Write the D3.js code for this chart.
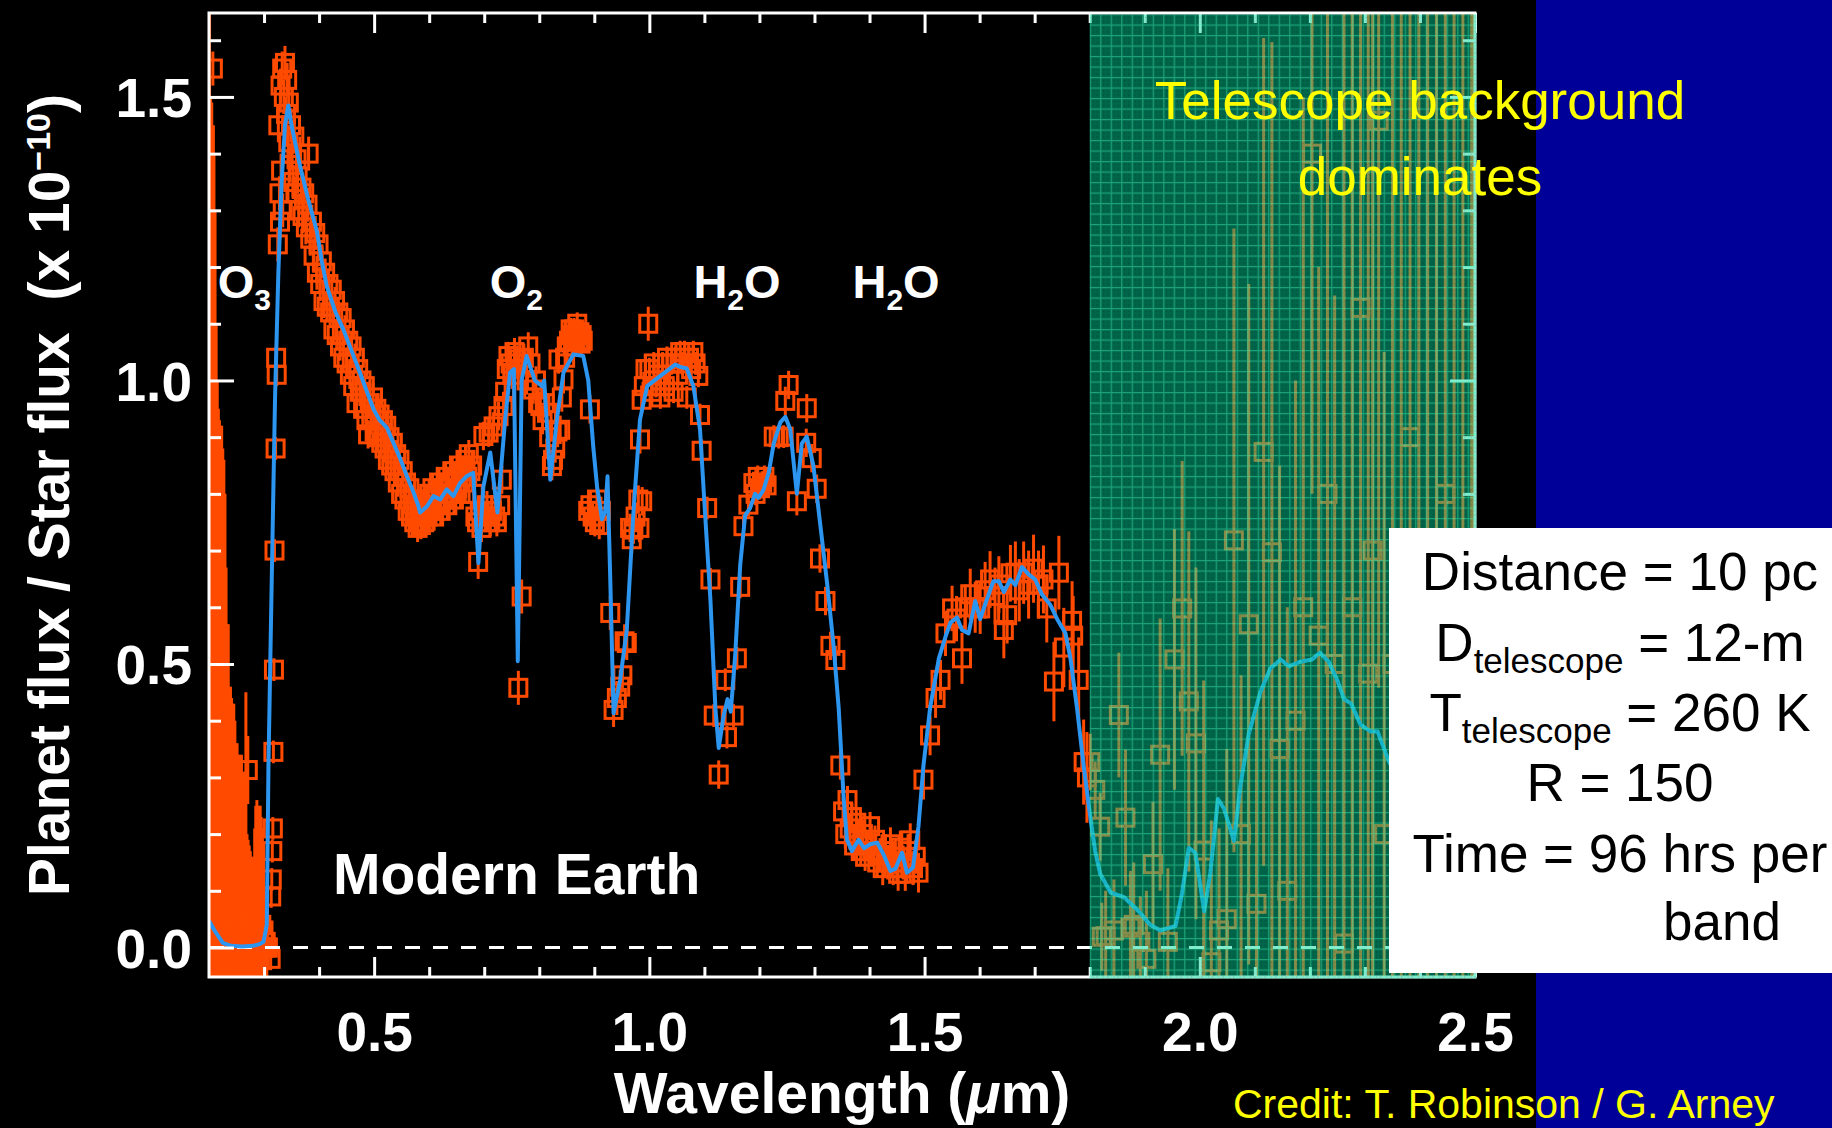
<!DOCTYPE html>
<html><head><meta charset="utf-8">
<script src="https://cdn.jsdelivr.net/npm/d3@7/dist/d3.min.js"></script>
<style>
html,body{margin:0;padding:0;background:#000;overflow:hidden}
text{font-family:"Liberation Sans",Arial,Helvetica,sans-serif;white-space:pre}
</style>
</head><body>
<svg id="c" width="1832" height="1128"></svg>
<script>
// ---------------- DATA ----------------
// Tick values
const xMajor = [0.5, 1.0, 1.5, 2.0, 2.5];
const xMinor = [0.3,0.4,0.6,0.7,0.8,0.9,1.1,1.2,1.3,1.4,1.6,1.7,1.8,1.9,2.1,2.2,2.3,2.4];
const yMajor = [0.0, 0.5, 1.0, 1.5];
const yMinor = [0.1,0.2,0.3,0.4,0.6,0.7,0.8,0.9,1.1,1.2,1.3,1.4,1.6];

// Model spectrum (blue line): wavelength (um), planet/star flux (x1e-10)
const modelWave = [0.200,0.210,0.225,0.240,0.260,0.280,0.292,0.299,0.305,0.308,0.314,0.320,0.326,0.332,0.338,0.344,0.350,0.365,0.380,0.396,
0.405,0.414,0.430,0.444,0.460,0.474,0.487,0.499,0.510,0.523,0.535,0.547,0.560,0.571,0.580,0.5835,0.596,0.608,0.620,0.632,
0.644,0.656,0.668,0.680,0.6895,0.6985,0.711,0.724,0.738,0.747,0.754,0.761,0.768,0.777,0.792,0.805,0.809,0.820,0.832,0.844,
0.862,0.880,0.889,0.898,0.905,0.914,0.920,0.924,0.929,0.935,0.947,0.959,0.971,0.983,0.996,1.020,1.047,1.056,1.068,1.080,
1.092,1.101,1.111,1.120,1.126,1.135,1.142,1.148,1.156,1.165,1.174,1.183,1.192,1.198,1.207,1.217,1.226,1.238,1.247,1.256,
1.268,1.277,1.286,1.298,1.310,1.323,1.335,1.344,1.353,1.359,1.368,1.380,1.390,1.401,1.414,1.426,1.438,1.447,1.459,1.468,
1.479,1.489,1.498,1.510,1.526,1.538,1.547,1.559,1.568,1.580,1.592,1.601,1.610,1.625,1.635,1.644,1.656,1.665,1.677,1.689,
1.701,1.713,1.728,1.741,1.756,1.765,1.777,1.789,1.801,1.810,1.819,1.838,1.862,1.889,1.910,1.928,1.956,1.968,1.980,1.992,
2.008,2.019,2.033,2.044,2.062,2.074,2.089,2.110,2.128,2.147,2.162,2.183,2.204,2.218,2.234,2.250,2.262,2.275,2.292,2.310,
2.323,2.344,2.360];
const modelFlux = [0.047,0.030,0.008,0.003,0.002,0.003,0.006,0.010,0.040,0.320,0.650,0.970,1.190,1.350,1.450,1.485,1.450,1.380,1.320,1.263,
1.210,1.166,1.120,1.090,1.050,1.014,0.980,0.949,0.930,0.917,0.890,0.863,0.830,0.804,0.780,0.767,0.778,0.796,0.790,0.808,
0.796,0.819,0.831,0.837,0.678,0.813,0.873,0.767,0.931,1.014,1.020,0.505,1.000,1.043,1.000,0.990,1.000,0.825,0.931,1.014,
1.046,1.043,1.000,0.884,0.813,0.755,0.770,0.831,0.649,0.413,0.472,0.560,0.766,0.931,0.990,1.008,1.028,1.024,1.021,0.990,
0.914,0.769,0.612,0.422,0.352,0.409,0.438,0.416,0.516,0.674,0.762,0.775,0.800,0.793,0.806,0.838,0.889,0.926,0.936,0.914,
0.800,0.889,0.901,0.850,0.750,0.642,0.529,0.422,0.264,0.190,0.170,0.190,0.175,0.182,0.185,0.163,0.135,0.139,0.167,0.132,
0.141,0.214,0.321,0.422,0.510,0.548,0.573,0.582,0.560,0.554,0.611,0.579,0.605,0.646,0.646,0.627,0.649,0.639,0.671,0.658,
0.649,0.623,0.605,0.579,0.554,0.510,0.422,0.321,0.230,0.170,0.130,0.097,0.089,0.064,0.040,0.030,0.038,0.097,0.176,0.167,
0.064,0.130,0.262,0.245,0.188,0.286,0.377,0.450,0.492,0.508,0.496,0.504,0.508,0.520,0.504,0.471,0.438,0.430,0.393,0.381,
0.381,0.327,0.300];

// Simulated observations: [wavelength, flux, 1-sigma error]
const uvForest = [
[0.201,0.02,1.65],[0.203,0.05,1.45],[0.205,-0.02,1.51],[0.207,1.55,0.03],[0.208,0.03,1.42],[0.209,0.00,1.40],[0.211,0.06,1.24],[0.213,0.00,1.10],
[0.215,0.05,0.95],[0.217,0.00,0.95],[0.219,0.08,0.85],[0.221,0.00,0.92],[0.223,0.05,0.87],[0.225,0.00,0.88],[0.227,0.06,0.80],[0.229,0.00,0.80],
[0.231,0.05,0.62],[0.233,0.00,0.57],[0.235,0.04,0.53],[0.237,0.00,0.46],[0.239,0.06,0.40],[0.241,0.00,0.44],[0.243,0.04,0.39],[0.245,0.00,0.43],
[0.247,0.05,0.35],[0.249,0.00,0.36],[0.251,0.04,0.32],[0.253,0.00,0.34],[0.255,0.06,0.28],[0.257,0.00,0.33],[0.259,0.04,0.30],[0.261,0.00,0.31],
[0.263,0.05,0.26],[0.265,0.00,0.28],[0.267,0.02,0.43],[0.269,0.00,0.20],[0.2705,0.313,0.06],[0.271,0.04,0.15],[0.273,0.00,0.18],[0.275,0.03,0.14],
[0.277,0.00,0.16],[0.279,0.04,0.12],[0.281,0.00,0.15],[0.283,0.05,0.16],[0.285,0.00,0.25],[0.287,0.06,0.20],[0.289,0.00,0.24],[0.291,0.05,0.20],
[0.293,0.00,0.25],[0.295,0.04,0.19],[0.297,0.00,0.21],[0.299,0.03,0.13],[0.301,0.00,0.10],[0.303,0.01,0.06],[0.305,0.00,0.05],[0.307,0.00,0.04]
];
const uvPoints = [
[0.312,-0.02,0.02],[0.313,0.09,0.02],[0.314,0.12,0.02],[0.315,0.17,0.02],[0.316,0.21,0.02],[0.317,0.345,0.02],[0.318,0.49,0.02],[0.319,0.70,0.02],
[0.321,0.88,0.02],[0.323,1.01,0.02],[0.322,1.04,0.02],[0.325,1.24,0.03],[0.326,1.45,0.03],[0.328,1.33,0.03],[0.329,1.28,0.03],[0.330,1.52,0.03],
[0.331,1.37,0.03],[0.333,1.55,0.03],[0.334,1.30,0.03],[0.336,1.50,0.03],[0.338,1.56,0.03],[0.340,1.47,0.03],[0.342,1.53,0.03],[0.344,1.42,0.03],
[0.345,1.49,0.03],[0.347,1.38,0.03],[0.349,1.45,0.03],[0.351,1.40,0.03],[0.353,1.35,0.03],[0.355,1.43,0.03],[0.357,1.33,0.03],[0.359,1.39,0.03],
[0.361,1.36,0.03],[0.363,1.30,0.03],[0.365,1.40,0.03],[0.368,1.34,0.03],[0.370,1.29,0.03],[0.373,1.33,0.03],[0.376,1.27,0.03],[0.379,1.31,0.03],
[0.381,1.40,0.03],[0.384,1.25,0.03],[0.387,1.28,0.03],[0.390,1.22,0.03],[0.393,1.26,0.03],[0.396,1.19,0.03],[0.399,1.24,0.03],[0.402,1.17,0.03],
[0.405,1.21,0.03],[0.408,1.14,0.03]
];
const visPoints = [
[0.411,1.19,0.025],[0.414,1.13,0.025],[0.417,1.17,0.025],[0.420,1.12,0.025],[0.423,1.16,0.025],[0.426,1.09,0.025],[0.429,1.14,0.025],[0.432,1.08,0.025],
[0.435,1.12,0.025],[0.438,1.06,0.025],[0.441,1.11,0.025],[0.444,1.04,0.025],[0.447,1.09,0.025],[0.450,1.03,0.025],[0.453,1.07,0.025],[0.456,1.01,0.025],
[0.459,1.06,0.025],[0.462,0.99,0.025],[0.465,1.04,0.025],[0.468,0.96,0.025],[0.471,1.02,0.025],[0.474,0.98,0.025],[0.477,1.00,0.025],[0.480,0.95,0.025],
[0.483,0.99,0.025],[0.486,0.93,0.025],[0.489,0.905,0.025],[0.492,0.96,0.025],[0.495,0.93,0.025],[0.498,0.97,0.025],[0.501,0.91,0.025],[0.504,0.95,0.025],
[0.507,0.90,0.025],[0.510,0.94,0.025],[0.513,0.89,0.025],[0.516,0.93,0.025],[0.519,0.88,0.025],[0.522,0.92,0.025],[0.525,0.86,0.025],[0.528,0.90,0.025],
[0.531,0.85,0.025],[0.534,0.89,0.025],[0.537,0.84,0.025],[0.540,0.87,0.025],[0.543,0.82,0.025],[0.546,0.86,0.025],[0.549,0.80,0.025],[0.552,0.84,0.025],
[0.555,0.79,0.025],[0.558,0.82,0.025],[0.561,0.77,0.025],[0.564,0.81,0.025],[0.567,0.76,0.025],[0.570,0.79,0.025],[0.573,0.75,0.025],[0.576,0.78,0.025],
[0.579,0.74,0.025],[0.582,0.77,0.025],[0.585,0.745,0.025],[0.588,0.78,0.025],[0.591,0.75,0.025],[0.594,0.79,0.025],[0.597,0.76,0.025],[0.600,0.80,0.025],
[0.603,0.77,0.025],[0.606,0.81,0.025],[0.609,0.76,0.025],[0.612,0.80,0.025],[0.615,0.78,0.025],[0.618,0.82,0.025],[0.621,0.77,0.025],[0.624,0.81,0.025],
[0.627,0.79,0.025],[0.630,0.83,0.025],[0.633,0.78,0.025],[0.636,0.82,0.025],[0.639,0.80,0.025],[0.642,0.84,0.025],[0.645,0.79,0.025],[0.648,0.83,0.025],
[0.651,0.81,0.025],[0.654,0.85,0.025],[0.657,0.80,0.025],[0.660,0.84,0.025],[0.663,0.82,0.025],[0.666,0.86,0.025],[0.669,0.83,0.025],[0.672,0.87,0.025],
[0.675,0.84,0.025],[0.678,0.85,0.025],[0.681,0.80,0.025],[0.684,0.76,0.025],[0.687,0.75,0.025],[0.689,0.68,0.03],[0.692,0.77,0.025],[0.695,0.74,0.025],
[0.6985,0.902,0.025],[0.702,0.76,0.025],[0.705,0.78,0.025],[0.708,0.908,0.025],[0.711,0.75,0.025],[0.714,0.77,0.025],[0.717,0.919,0.025],[0.720,0.76,0.025],
[0.723,0.75,0.025],[0.726,0.937,0.025],[0.729,0.78,0.025],[0.732,0.825,0.025],[0.735,0.955,0.025],[0.738,0.98,0.025],[0.741,1.02,0.025],[0.744,1.043,0.025],
[0.748,1.03,0.025],[0.751,1.01,0.025],[0.755,1.05,0.025],[0.759,1.037,0.025],[0.762,0.458,0.03],[0.768,0.619,0.03],[0.772,1.04,0.025],[0.777,1.00,0.025],
[0.780,1.06,0.025],[0.784,1.03,0.025],[0.789,0.984,0.025],[0.794,1.00,0.025],[0.798,0.96,0.025],[0.802,0.955,0.025],[0.806,0.93,0.025],[0.810,0.96,0.025],
[0.814,0.943,0.025],[0.818,0.90,0.025],[0.823,0.849,0.025],[0.825,0.86,0.025],[0.829,0.88,0.025],[0.833,0.91,0.025],[0.835,1.037,0.025],[0.838,0.913,0.025],
[0.841,0.97,0.025],[0.844,1.002,0.025],[0.847,1.04,0.025],[0.850,1.06,0.025],[0.854,1.07,0.02],[0.857,1.09,0.02],[0.859,1.08,0.02],[0.861,1.06,0.02],
[0.863,1.09,0.02],[0.865,1.07,0.02],[0.867,1.08,0.02],[0.869,1.10,0.02],[0.871,1.07,0.02],[0.873,1.085,0.02],[0.875,1.065,0.02],[0.877,1.08,0.02],
[0.879,1.07,0.02],[0.889,0.77,0.025],[0.892,0.949,0.025],[0.893,0.78,0.025],[0.897,0.76,0.025],[0.901,0.75,0.025],[0.905,0.79,0.025],[0.909,0.745,0.025],
[0.912,0.77,0.025],[0.929,0.59,0.03],[0.935,0.419,0.03],[0.941,0.44,0.03],[0.947,0.46,0.03],[0.951,0.48,0.03],[0.955,0.54,0.03],[0.959,0.537,0.03],
[0.965,0.74,0.025],[0.968,0.72,0.025],[0.971,0.737,0.025],[0.975,0.76,0.025],[0.980,0.79,0.025],[0.982,0.74,0.025],[0.983,0.896,0.025],[0.986,0.966,0.025],
[0.987,0.787,0.025],[0.990,0.99,0.025],[0.993,1.02,0.025],[0.998,1.10,0.03]
];
const nirPoints = [
[1.000,1.02,0.02],[1.004,0.98,0.02],[1.008,1.03,0.02],[1.012,0.99,0.02],[1.016,1.01,0.02],[1.020,0.97,0.02],[1.024,1.03,0.02],[1.028,0.99,0.02],
[1.032,1.04,0.02],[1.036,1.00,0.02],[1.040,1.03,0.02],[1.044,0.98,0.02],[1.048,1.04,0.02],[1.052,1.01,0.02],[1.056,1.05,0.02],[1.060,1.03,0.02],
[1.064,1.05,0.02],[1.068,0.97,0.02],[1.072,1.04,0.02],[1.076,1.02,0.02],[1.080,1.05,0.02],[1.084,1.03,0.02],[1.089,1.008,0.02],[1.092,0.939,0.02],
[1.095,0.876,0.02],[1.105,0.775,0.02],[1.111,0.649,0.02],[1.117,0.409,0.02],[1.126,0.305,0.025],[1.138,0.472,0.02],[1.141,0.371,0.02],[1.153,0.409,0.02],
[1.159,0.510,0.02],[1.165,0.636,0.02],[1.171,0.743,0.02],[1.180,0.781,0.02],[1.189,0.819,0.02],[1.193,0.800,0.02],[1.197,0.830,0.02],[1.201,0.810,0.02],
[1.205,0.820,0.02],[1.209,0.830,0.02],[1.213,0.815,0.02],[1.226,0.901,0.02],[1.235,0.900,0.02],[1.244,0.901,0.02],[1.247,0.964,0.025],[1.253,0.992,0.025],
[1.268,0.787,0.025],[1.285,0.890,0.025],[1.286,0.951,0.025],[1.295,0.863,0.025],[1.304,0.809,0.025],[1.310,0.686,0.025],[1.320,0.611,0.025],[1.329,0.532,0.025],
[1.338,0.507,0.025],[1.347,0.321,0.025],[1.352,0.24,0.025],[1.356,0.20,0.025],[1.360,0.26,0.025],[1.364,0.21,0.025],[1.368,0.23,0.025],[1.372,0.18,0.025],
[1.376,0.22,0.025],[1.380,0.19,0.025],[1.384,0.17,0.025],[1.388,0.20,0.025],[1.392,0.16,0.025],[1.396,0.18,0.025],[1.401,0.214,0.025],[1.405,0.17,0.025],
[1.410,0.19,0.025],[1.414,0.15,0.025],[1.419,0.163,0.03],[1.424,0.14,0.03],[1.429,0.17,0.03],[1.433,0.15,0.03],[1.438,0.182,0.03],[1.443,0.14,0.03],
[1.447,0.16,0.03],[1.452,0.13,0.03],[1.456,0.176,0.03],[1.461,0.15,0.03],[1.465,0.13,0.03],[1.470,0.17,0.03],[1.474,0.189,0.03],[1.479,0.14,0.03],
[1.484,0.16,0.03],[1.489,0.132,0.035],[1.498,0.296,0.035],[1.510,0.374,0.035],[1.520,0.440,0.035],[1.529,0.472,0.035],[1.538,0.554,0.04],[1.550,0.598,0.04],
[1.558,0.580,0.04],[1.568,0.510,0.045],[1.574,0.600,0.04],[1.583,0.623,0.045],[1.592,0.600,0.045],[1.601,0.598,0.045],[1.610,0.630,0.05],[1.619,0.649,0.05],
[1.628,0.620,0.05],[1.635,0.640,0.05],[1.644,0.560,0.05],[1.650,0.586,0.05],[1.656,0.660,0.05],[1.665,0.661,0.055],[1.672,0.630,0.055],[1.680,0.661,0.055],
[1.689,0.640,0.06],[1.698,0.668,0.06],[1.707,0.640,0.06],[1.716,0.649,0.06],[1.722,0.598,0.06],[1.735,0.469,0.07],[1.744,0.661,0.065],[1.753,0.529,0.07],
[1.768,0.576,0.07],[1.770,0.550,0.07],[1.780,0.472,0.075],[1.789,0.327,0.075],[1.795,0.300,0.08]
];
const bgPoints = [
[1.801,0.327,0.05],[1.810,0.278,0.05],[1.819,0.213,0.06],[1.822,0.019,0.06],[1.829,0.020,0.08],[1.844,0.030,0.09],[1.853,0.410,0.11],[1.865,0.229,0.12],
[1.874,0.035,0.10],[1.880,0.040,0.11],[1.892,0.010,0.08],[1.903,-0.020,0.12],[1.915,0.147,0.11],[1.928,0.340,0.24],[1.942,0.010,0.13],[1.954,0.508,0.23],
[1.968,0.598,0.26],[1.980,0.434,0.30],[1.993,0.360,0.31],[2.007,0.171,0.30],[2.021,-0.026,0.25],[2.035,0.030,0.18],[2.049,0.050,0.30],[2.062,0.718,0.55],
[2.075,0.200,0.28],[2.089,0.570,0.60],[2.103,0.077,0.35],[2.116,0.874,0.73],[2.131,0.697,0.90],[2.145,0.350,0.50],[2.159,0.100,0.50],[2.174,0.400,0.60],
[2.188,0.600,0.90],[2.204,1.400,0.60],[2.216,0.550,0.65],[2.232,0.800,1.00],[2.245,0.500,0.65],[2.262,0.007,1.70],[2.277,0.600,1.20],[2.292,1.128,1.20],
[2.306,0.483,1.30],[2.314,0.700,1.20],[2.325,1.458,1.00],[2.335,0.200,0.85],[2.350,0.500,1.30],[2.366,0.300,1.50],[2.382,0.900,1.00],[2.398,0.400,1.40],
[2.414,0.600,1.20],[2.430,0.200,1.60],[2.446,0.800,1.10],[2.462,0.500,1.40],[2.478,0.400,1.50],[2.494,0.600,1.30],[2.499,0.500,1.60]
];

// Annotations
const molecules = [
  {base:"O", sub:"3", tail:"", wave:0.216},
  {base:"O", sub:"2", tail:"", wave:0.710},
  {base:"H", sub:"2", tail:"O", wave:1.080},
  {base:"H", sub:"2", tail:"O", wave:1.369}
];
const boxLines = ["Distance = 10 pc", "R = 150", "Time = 96 hrs per"];

// ---------------- DRAWING ----------------
const W = 1832, H = 1128;
const orange = "#ff4b00", blue = "#2c95f0";
const svg = d3.select("#c");
const x = d3.scaleLinear().domain([0.2, 2.5]).range([209, 1475]);
const y = d3.scaleLinear().domain([-0.052, 1.648]).range([977, 13]);
const X0 = x.range()[0], X1 = x.range()[1], Y0 = y.range()[1], Y1 = y.range()[0];

svg.append("rect").attr("width", W).attr("height", H).attr("fill", "#000");
svg.append("rect").attr("x", 1536).attr("width", W - 1536).attr("height", H).attr("fill", "#000099");

const defs = svg.append("defs");
defs.append("clipPath").attr("id", "plotclip").append("rect")
  .attr("x", X0).attr("y", Y0).attr("width", X1 - X0).attr("height", Y1 - Y0);
const pat = defs.append("pattern").attr("id", "grid").attr("patternUnits", "userSpaceOnUse")
  .attr("x", x(1.8)).attr("y", Y0 + 1).attr("width", 10.5).attr("height", 10.5);
pat.append("rect").attr("width", 10.5).attr("height", 10.5).attr("fill", "rgba(0,215,155,0.47)");
pat.append("rect").attr("width", 1).attr("height", 1).attr("x", 3).attr("y", 3).attr("fill", "rgba(0,0,0,0.3)");
pat.append("rect").attr("width", 1).attr("height", 1).attr("x", 7).attr("y", 7).attr("fill", "rgba(0,0,0,0.3)");
pat.append("rect").attr("width", 1).attr("height", 1).attr("x", 3).attr("y", 7).attr("fill", "rgba(0,0,0,0.2)");
pat.append("rect").attr("width", 1).attr("height", 1).attr("x", 7).attr("y", 3).attr("fill", "rgba(0,0,0,0.2)");
pat.append("path").attr("d", "M0 0.6H10.5M0.6 0V10.5").attr("stroke", "rgba(70,245,185,0.42)").attr("stroke-width", 1.2);

// observations
const points = [...uvForest, ...uvPoints, ...visPoints, ...nirPoints, ...bgPoints];
const pg = svg.append("g").attr("clip-path", "url(#plotclip)");
pg.selectAll("line.err").data(points).join("line").attr("class", "err")
  .attr("x1", d => x(d[0])).attr("x2", d => x(d[0]))
  .attr("y1", d => y(d[1] - d[2])).attr("y2", d => y(d[1] + d[2]))
  .attr("stroke", orange).attr("stroke-width", 3);
pg.selectAll("rect.pt").data(points).join("rect").attr("class", "pt")
  .attr("x", d => x(d[0]) - 8.5).attr("y", d => y(d[1]) - 8.5)
  .attr("width", 17).attr("height", 17)
  .attr("fill", "none").attr("stroke", orange).attr("stroke-width", 3);

// zero line
svg.append("line").attr("x1", X0).attr("x2", X1).attr("y1", y(0)).attr("y2", y(0))
  .attr("stroke", "#fff").attr("stroke-width", 3).attr("stroke-dasharray", "15 13");

// model line
const model = modelWave.map((w, i) => [w, modelFlux[i]]);
svg.append("path").attr("clip-path", "url(#plotclip)").datum(model)
  .attr("d", d3.line().x(d => x(d[0])).y(d => y(d[1])))
  .attr("fill", "none").attr("stroke", blue).attr("stroke-width", 4)
  .attr("stroke-linejoin", "round");

// axes
function styleAxis(g) {
  g.select(".domain").remove();
  g.selectAll(".tick line").attr("stroke", "#fff").attr("stroke-width", 3);
}
const fmt = d3.format(".1f");
svg.append("g").attr("transform", `translate(0,${Y1})`)
  .call(d3.axisBottom(x).tickValues(xMajor).tickSize(-20).tickFormat(fmt))
  .call(styleAxis)
  .call(g => g.selectAll("text").attr("y", 74).attr("dy", 0).attr("fill", "#fff")
    .attr("font-size", 55).attr("font-weight", "bold").attr("font-family", "Liberation Sans, Arial, sans-serif"));
svg.append("g").attr("transform", `translate(0,${Y1})`)
  .call(d3.axisBottom(x).tickValues(xMinor).tickSize(-10).tickFormat("")).call(styleAxis);
svg.append("g").attr("transform", `translate(0,${Y0})`)
  .call(d3.axisTop(x).tickValues(xMajor).tickSize(-20).tickFormat("")).call(styleAxis);
svg.append("g").attr("transform", `translate(0,${Y0})`)
  .call(d3.axisTop(x).tickValues(xMinor).tickSize(-10).tickFormat("")).call(styleAxis);
svg.append("g").attr("transform", `translate(${X0},0)`)
  .call(d3.axisLeft(y).tickValues(yMajor).tickSize(-25).tickFormat(fmt))
  .call(styleAxis)
  .call(g => g.selectAll("text").attr("x", -17).attr("dy", "0.36em").attr("fill", "#fff")
    .attr("font-size", 55).attr("font-weight", "bold").attr("font-family", "Liberation Sans, Arial, sans-serif"));
svg.append("g").attr("transform", `translate(${X0},0)`)
  .call(d3.axisLeft(y).tickValues(yMinor).tickSize(-12).tickFormat("")).call(styleAxis);
svg.append("g").attr("transform", `translate(${X1},0)`)
  .call(d3.axisRight(y).tickValues(yMajor).tickSize(-25).tickFormat("")).call(styleAxis);
svg.append("g").attr("transform", `translate(${X1},0)`)
  .call(d3.axisRight(y).tickValues(yMinor).tickSize(-12).tickFormat("")).call(styleAxis);
svg.append("rect").attr("x", X0).attr("y", Y0).attr("width", X1 - X0).attr("height", Y1 - Y0)
  .attr("fill", "none").attr("stroke", "#fff").attr("stroke-width", 3);

// axis titles
const xt = svg.append("text").attr("x", (X0 + X1) / 2).attr("y", 1113).attr("text-anchor", "middle")
  .attr("fill", "#fff").attr("font-size", 57).attr("font-weight", "bold");
xt.append("tspan").text("Wavelength (");
xt.append("tspan").attr("font-style", "italic").text("\u03bc");
xt.append("tspan").text("m)");
const yt = svg.append("text").attr("transform", `translate(69,${(Y0 + Y1) / 2}) rotate(-90)`)
  .attr("text-anchor", "middle").attr("fill", "#fff").attr("font-size", 57).attr("font-weight", "bold");
yt.append("tspan").text("Planet flux / Star flux  (x 10");
yt.append("tspan").attr("dy", -19).attr("font-size", 34).text("\u221210");
yt.append("tspan").attr("dy", 19).text(")");

// molecule labels
molecules.forEach(m => {
  const t = svg.append("text").attr("x", x(m.wave)).attr("y", 298)
    .attr("fill", "#fff").attr("font-size", 47).attr("font-weight", "bold");
  t.append("tspan").text(m.base);
  t.append("tspan").attr("dy", 12).attr("font-size", 30).text(m.sub);
  if (m.tail) t.append("tspan").attr("dy", -12).attr("font-size", 47).text(m.tail);
});
svg.append("text").attr("x", 333).attr("y", 894).attr("fill", "#fff")
  .attr("font-size", 57).attr("font-weight", "bold").text("Modern Earth");

// telescope-background overlay
svg.append("rect").attr("x", x(1.8)).attr("y", Y0 + 1.5).attr("width", X1 + 1.5 - x(1.8)).attr("height", Y1 - Y0)
  .attr("fill", "url(#grid)");
svg.append("text").attr("x", 1420).attr("y", 119).attr("text-anchor", "middle")
  .attr("fill", "#ffff00").attr("font-size", 53).text("Telescope background");
svg.append("text").attr("x", 1420).attr("y", 195).attr("text-anchor", "middle")
  .attr("fill", "#ffff00").attr("font-size", 53).text("dominates");

// parameter box
svg.append("rect").attr("x", 1389).attr("y", 528).attr("width", W - 1389).attr("height", 445).attr("fill", "#fff");
const bx = 1620;
svg.append("text").attr("x", bx).attr("y", 590).attr("text-anchor", "middle").attr("font-size", 53).attr("fill", "#000").text(boxLines[0]);
[["D", " = 12-m", 661], ["T", " = 260 K", 731]].forEach(([a, b, yy]) => {
  const t = svg.append("text").attr("x", bx).attr("y", yy).attr("text-anchor", "middle").attr("font-size", 53).attr("fill", "#000");
  t.append("tspan").text(a);
  t.append("tspan").attr("dy", 12).attr("font-size", 35).text("telescope");
  t.append("tspan").attr("dy", -12).attr("font-size", 53).text(b);
});
svg.append("text").attr("x", bx).attr("y", 801).attr("text-anchor", "middle").attr("font-size", 53).attr("fill", "#000").text(boxLines[1]);
svg.append("text").attr("x", bx).attr("y", 872).attr("text-anchor", "middle").attr("font-size", 53).attr("fill", "#000").text(boxLines[2]);
svg.append("text").attr("x", 1722).attr("y", 940).attr("text-anchor", "middle").attr("font-size", 53).attr("fill", "#000").text("band");

// credit (kept fully inside the page)
svg.append("text").attr("x", 1233).attr("y", 1118).attr("fill", "#ffff00").attr("font-size", 41)
  .text("Credit: T. Robinson / G. Arney");
</script>
</body></html>
